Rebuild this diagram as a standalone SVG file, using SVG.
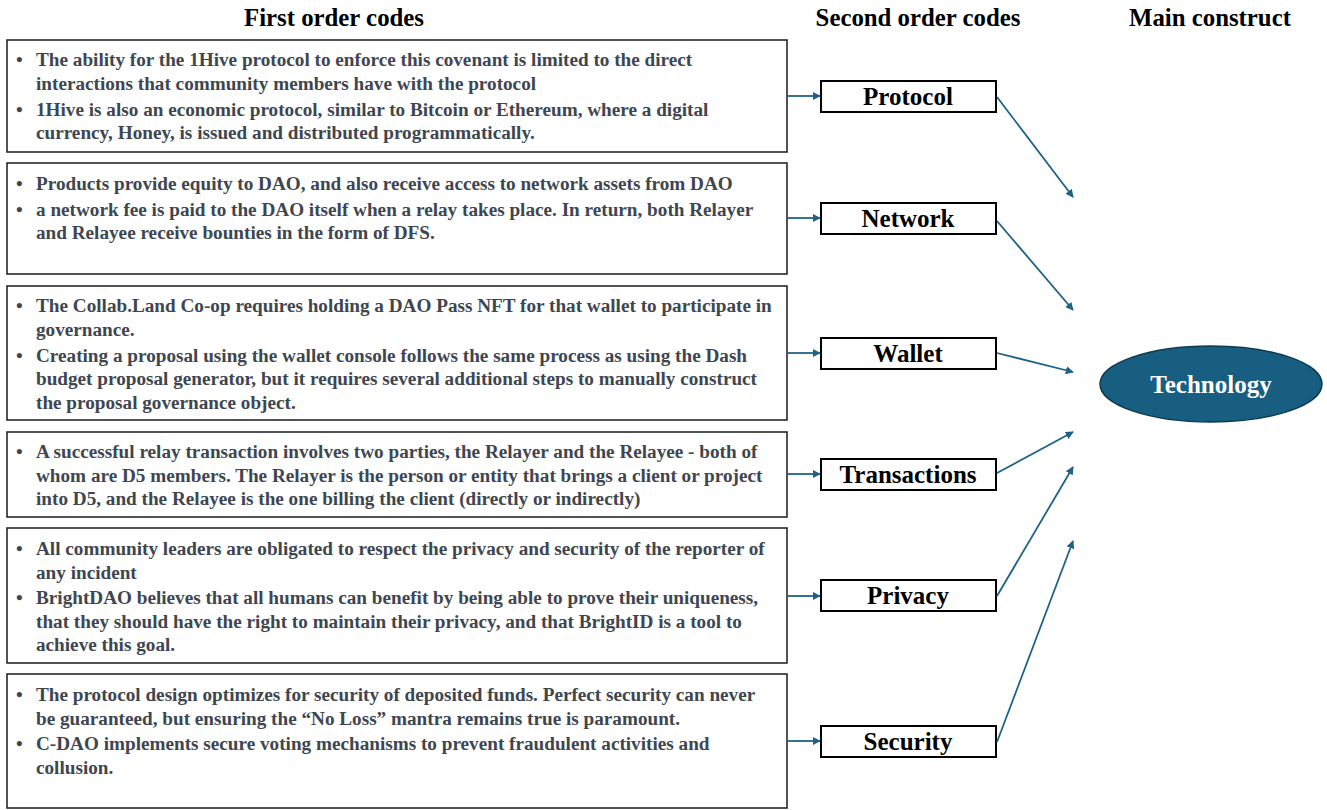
<svg xmlns="http://www.w3.org/2000/svg" width="1327" height="810" viewBox="0 0 1327 810">
  <defs>
    <marker id="arrow" viewBox="0 0 10 10" refX="9" refY="5" markerWidth="4.5" markerHeight="4.5" orient="auto" markerUnits="strokeWidth">
      <path d="M0,0 L10,5 L0,10 z" fill="#1f6288"/>
    </marker>
    <style>
      .hdr { font-family: "Liberation Serif", "Times New Roman", serif; font-weight: bold; font-size: 24.8px; fill: #000; text-anchor: middle; }
      .box { fill: #fff; stroke: #1a1a1a; stroke-width: 1.5; }
      .txt { font-family: "Liberation Serif", "Times New Roman", serif; font-weight: bold; font-size: 19.2px; fill: #3e4650; }
      .code { fill: #fff; stroke: #000; stroke-width: 2; }
      .codetxt { font-family: "Liberation Serif", "Times New Roman", serif; font-weight: bold; font-size: 25px; fill: #000; text-anchor: middle; }
      .conn { stroke: #1f6288; stroke-width: 1.8; fill: none; marker-end: url(#arrow); }
    </style>
  </defs>
  <rect width="1327" height="810" fill="#fff"/>

  <!-- column headings -->
  <g id="headings">
    <text class="hdr" x="334" y="26">First order codes</text>
    <text class="hdr" x="918" y="26">Second order codes</text>
    <text class="hdr" x="1210" y="26">Main construct</text>
  </g>

  <!-- first order code boxes -->
  <g id="fo-protocol">
    <rect class="box" x="7" y="40" width="780" height="112"/>
    <text class="txt">
      <tspan x="16" y="66">•</tspan><tspan x="36" y="66">The ability for the 1Hive protocol to enforce this covenant is limited to the direct</tspan>
      <tspan x="36" y="90">interactions that community members have with the protocol</tspan>
      <tspan x="16" y="116">•</tspan><tspan x="36" y="116">1Hive is also an economic protocol, similar to Bitcoin or Ethereum, where a digital</tspan>
      <tspan x="36" y="139">currency, Honey, is issued and distributed programmatically.</tspan>
    </text>
  </g>
  <g id="fo-network">
    <rect class="box" x="7" y="163" width="780" height="111"/>
    <text class="txt">
      <tspan x="16" y="190">•</tspan><tspan x="36" y="190">Products provide equity to DAO, and also receive access to network assets from DAO</tspan>
      <tspan x="16" y="216">•</tspan><tspan x="36" y="216">a network fee is paid to the DAO itself when a relay takes place. In return, both Relayer</tspan>
      <tspan x="36" y="239">and Relayee receive bounties in the form of DFS.</tspan>
    </text>
  </g>
  <g id="fo-wallet">
    <rect class="box" x="7" y="286" width="780" height="134"/>
    <text class="txt">
      <tspan x="16" y="312">•</tspan><tspan x="36" y="312">The Collab.Land Co-op requires holding a DAO Pass NFT for that wallet to participate in</tspan>
      <tspan x="36" y="336">governance.</tspan>
      <tspan x="16" y="362">•</tspan><tspan x="36" y="362">Creating a proposal using the wallet console follows the same process as using the Dash</tspan>
      <tspan x="36" y="385">budget proposal generator, but it requires several additional steps to manually construct</tspan>
      <tspan x="36" y="409">the proposal governance object.</tspan>
    </text>
  </g>
  <g id="fo-transactions">
    <rect class="box" x="7" y="432" width="780" height="85"/>
    <text class="txt">
      <tspan x="16" y="458">•</tspan><tspan x="36" y="458">A successful relay transaction involves two parties, the Relayer and the Relayee - both of</tspan>
      <tspan x="36" y="482">whom are D5 members. The Relayer is the person or entity that brings a client or project</tspan>
      <tspan x="36" y="505">into D5, and the Relayee is the one billing the client (directly or indirectly)</tspan>
    </text>
  </g>
  <g id="fo-privacy">
    <rect class="box" x="7" y="528" width="780" height="135"/>
    <text class="txt">
      <tspan x="16" y="555">•</tspan><tspan x="36" y="555">All community leaders are obligated to respect the privacy and security of the reporter of</tspan>
      <tspan x="36" y="579">any incident</tspan>
      <tspan x="16" y="604">•</tspan><tspan x="36" y="604">BrightDAO believes that all humans can benefit by being able to prove their uniqueness,</tspan>
      <tspan x="36" y="628">that they should have the right to maintain their privacy, and that BrightID is a tool to</tspan>
      <tspan x="36" y="651">achieve this goal.</tspan>
    </text>
  </g>
  <g id="fo-security">
    <rect class="box" x="7" y="674" width="780" height="134"/>
    <text class="txt">
      <tspan x="16" y="701">•</tspan><tspan x="36" y="701">The protocol design optimizes for security of deposited funds. Perfect security can never</tspan>
      <tspan x="36" y="725">be guaranteed, but ensuring the “No Loss” mantra remains true is paramount.</tspan>
      <tspan x="16" y="750">•</tspan><tspan x="36" y="750">C-DAO implements secure voting mechanisms to prevent fraudulent activities and</tspan>
      <tspan x="36" y="774">collusion.</tspan>
    </text>
  </g>

  <!-- second order codes -->
  <g id="so-protocol">
    <rect class="code" x="821" y="81" width="175" height="31"/>
    <text class="codetxt" x="908" y="105">Protocol</text>
  </g>
  <g id="so-network">
    <rect class="code" x="821" y="203" width="175" height="31"/>
    <text class="codetxt" x="908" y="227">Network</text>
  </g>
  <g id="so-wallet">
    <rect class="code" x="821" y="338" width="175" height="31"/>
    <text class="codetxt" x="908" y="362">Wallet</text>
  </g>
  <g id="so-transactions">
    <rect class="code" x="821" y="459" width="175" height="31"/>
    <text class="codetxt" x="908" y="483">Transactions</text>
  </g>
  <g id="so-privacy">
    <rect class="code" x="821" y="580" width="175" height="31"/>
    <text class="codetxt" x="908" y="604">Privacy</text>
  </g>
  <g id="so-security">
    <rect class="code" x="821" y="726" width="175" height="31"/>
    <text class="codetxt" x="908" y="750">Security</text>
  </g>

  <!-- main construct -->
  <g id="main-technology">
    <ellipse cx="1211" cy="384" rx="111" ry="38" fill="#175e80" stroke="#0c3a50" stroke-width="1.5"/>
    <text x="1211" y="393" font-family="Liberation Serif, Times New Roman, serif" font-weight="bold" font-size="25" fill="#fff" text-anchor="middle">Technology</text>
  </g>

  <!-- connectors -->
  <g id="connectors">
    <line class="conn" x1="788" y1="96" x2="820" y2="96"/>
    <line class="conn" x1="788" y1="218" x2="820" y2="218"/>
    <line class="conn" x1="788" y1="353" x2="820" y2="353"/>
    <line class="conn" x1="788" y1="474" x2="820" y2="474"/>
    <line class="conn" x1="788" y1="596" x2="820" y2="596"/>
    <line class="conn" x1="788" y1="741" x2="820" y2="741"/>

    <line class="conn" x1="997" y1="97" x2="1073" y2="197"/>
    <line class="conn" x1="997" y1="221" x2="1073" y2="310"/>
    <line class="conn" x1="997" y1="353" x2="1073" y2="372"/>
    <line class="conn" x1="997" y1="473" x2="1073" y2="432"/>
    <line class="conn" x1="997" y1="596" x2="1073" y2="467"/>
    <line class="conn" x1="997" y1="742" x2="1073" y2="541"/>
  </g>
</svg>
